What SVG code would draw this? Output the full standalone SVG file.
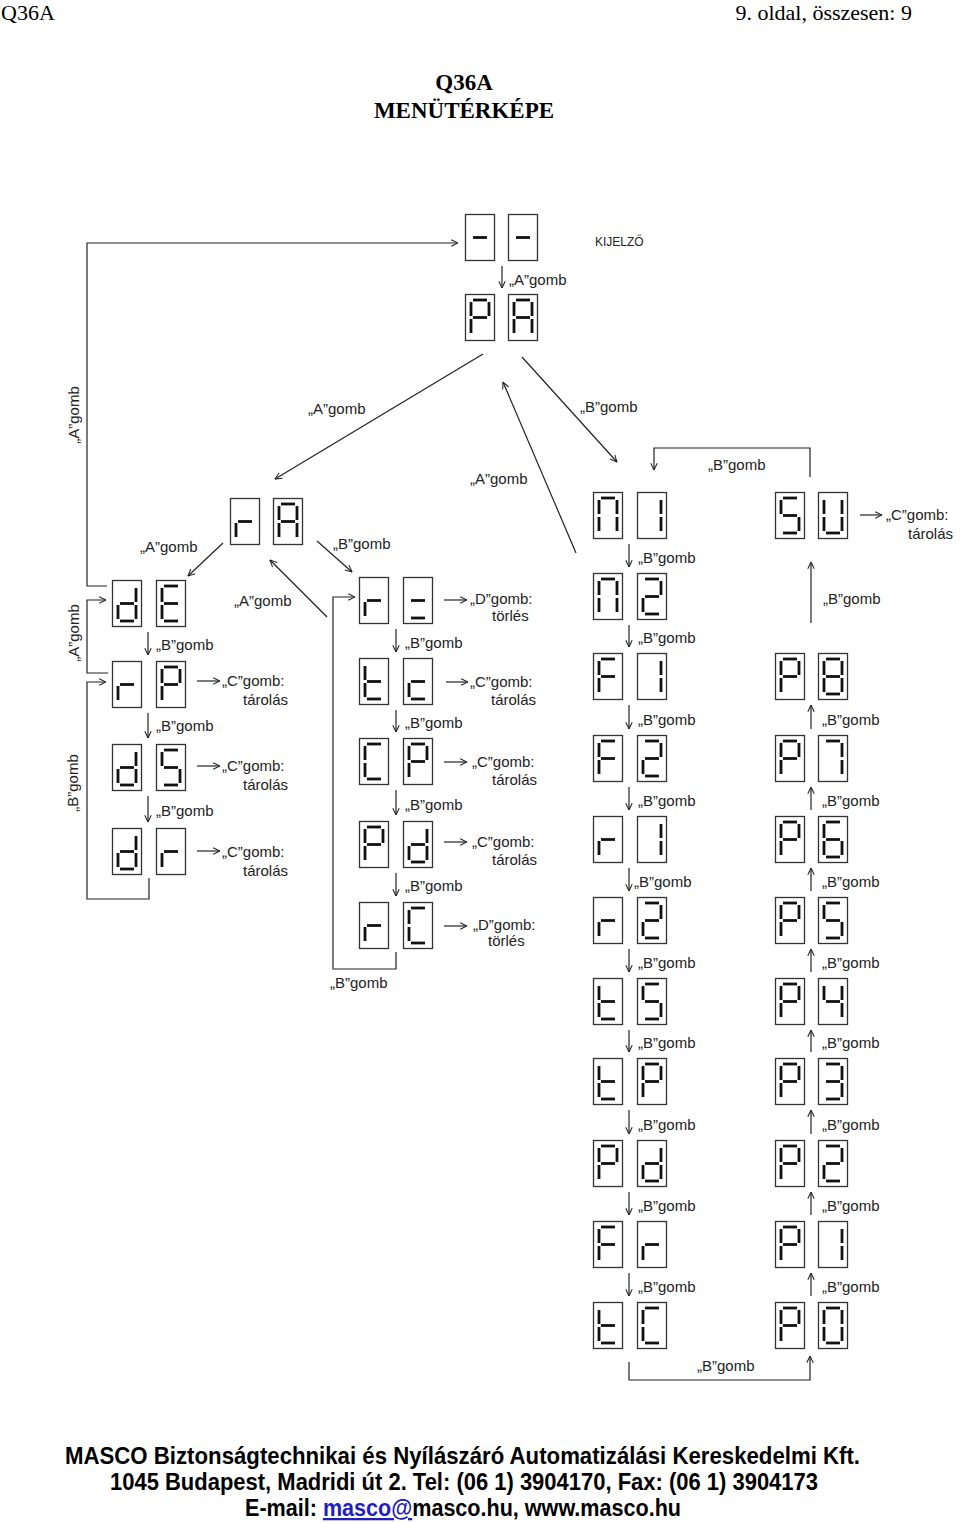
<svg xmlns="http://www.w3.org/2000/svg" width="960" height="1523" viewBox="0 0 960 1523">
<style>
.bx{fill:#fff;stroke:#333;stroke-width:1.3}
.sg{fill:none;stroke:#111;stroke-width:2.8}
.cn{fill:none;stroke:#222;stroke-width:1.2}
.ar{marker-end:url(#ah)}
.lb{font-family:"Liberation Sans",Arial,sans-serif;font-size:15px;fill:#222}
.sm{font-size:12px}
.hd{font-family:"Liberation Serif","Times New Roman",serif;font-size:22px;fill:#000}
.tt{font-family:"Liberation Serif","Times New Roman",serif;font-size:23px;font-weight:bold;fill:#000}
.ft{font-family:"Liberation Sans",Arial,sans-serif;font-size:23px;font-weight:bold;fill:#000}
</style>
<defs>
<marker id="ah" viewBox="0 0 10 10" refX="9.5" refY="5" markerWidth="8" markerHeight="8" markerUnits="userSpaceOnUse" orient="auto"><path d="M1,1 L9.5,5 L1,9" fill="none" stroke="#222" stroke-width="1.3"/></marker>
<rect id="bx" class="bx" x="0.5" y="0.5" width="29" height="46"/>
<path id="sa" class="sg" d="M8,6H22"/>
<path id="sb" class="sg" d="M24,8V22"/>
<path id="sc" class="sg" d="M24,25V39"/>
<path id="sd" class="sg" d="M8,41H22"/>
<path id="se" class="sg" d="M6,25V39"/>
<path id="sf" class="sg" d="M6,8V22"/>
<path id="sm" class="sg" d="M8,23.5H22"/>
<g id="c-dash"><use href="#bx"/><use href="#sm"/></g>
<g id="c-P"><use href="#bx"/><use href="#sa"/><use href="#sb"/><use href="#sf"/><use href="#sm"/><use href="#se"/></g>
<g id="c-A"><use href="#bx"/><use href="#sa"/><use href="#sb"/><use href="#sc"/><use href="#se"/><use href="#sf"/><use href="#sm"/></g>
<g id="c-r"><use href="#bx"/><use href="#se"/><use href="#sm"/></g>
<g id="c-d"><use href="#bx"/><use href="#sb"/><use href="#sc"/><use href="#sd"/><use href="#se"/><use href="#sm"/></g>
<g id="c-E"><use href="#bx"/><use href="#sa"/><use href="#sd"/><use href="#se"/><use href="#sf"/><use href="#sm"/></g>
<g id="c-S"><use href="#bx"/><use href="#sa"/><use href="#sf"/><use href="#sm"/><use href="#sc"/><use href="#sd"/></g>
<g id="c-eq"><use href="#bx"/><use href="#sm"/><use href="#sd"/></g>
<g id="c-t"><use href="#bx"/><use href="#sf"/><use href="#se"/><use href="#sm"/><use href="#sd"/></g>
<g id="c-c"><use href="#bx"/><use href="#sm"/><use href="#se"/><use href="#sd"/></g>
<g id="c-C"><use href="#bx"/><use href="#sa"/><use href="#sf"/><use href="#se"/><use href="#sd"/></g>
<g id="c-n"><use href="#bx"/><use href="#sa"/><use href="#sb"/><use href="#sc"/><use href="#se"/><use href="#sf"/></g>
<g id="c-1"><use href="#bx"/><use href="#sb"/><use href="#sc"/></g>
<g id="c-2"><use href="#bx"/><use href="#sa"/><use href="#sb"/><use href="#sm"/><use href="#se"/><use href="#sd"/></g>
<g id="c-F"><use href="#bx"/><use href="#sa"/><use href="#sf"/><use href="#sm"/><use href="#se"/></g>
<g id="c-8"><use href="#bx"/><use href="#sa"/><use href="#sb"/><use href="#sc"/><use href="#sd"/><use href="#se"/><use href="#sf"/><use href="#sm"/></g>
<g id="c-7"><use href="#bx"/><use href="#sa"/><use href="#sb"/><use href="#sc"/></g>
<g id="c-6"><use href="#bx"/><use href="#sa"/><use href="#sf"/><use href="#sm"/><use href="#se"/><use href="#sd"/><use href="#sc"/></g>
<g id="c-4"><use href="#bx"/><use href="#sf"/><use href="#sm"/><use href="#sb"/><use href="#sc"/></g>
<g id="c-3"><use href="#bx"/><use href="#sa"/><use href="#sb"/><use href="#sm"/><use href="#sc"/><use href="#sd"/></g>
<g id="c-0"><use href="#bx"/><use href="#sa"/><use href="#sb"/><use href="#sc"/><use href="#sd"/><use href="#se"/><use href="#sf"/></g>
<g id="c-U"><use href="#bx"/><use href="#sb"/><use href="#sc"/><use href="#sd"/><use href="#se"/><use href="#sf"/></g>
</defs>
<rect width="960" height="1523" fill="#fff"/>

<g id="header">
<text class="hd" x="1" y="20">Q36A</text>
<text class="hd" x="912" y="20" text-anchor="end">9. oldal, összesen: 9</text>
<text class="tt" x="464" y="90" text-anchor="middle">Q36A</text>
<text class="tt" x="464" y="118" text-anchor="middle">MENÜTÉRKÉPE</text>
</g>

<g id="connectors" class="cn">
<path class="ar" d="M107,586H87V243H458"/>
<path class="ar" d="M502,266V288"/>
<path class="ar" d="M483,354L275,479"/>
<path class="ar" d="M522,357L617,462"/>
<path class="ar" d="M576,553L503,382"/>
<path class="ar" d="M223,543L188,576"/>
<path class="ar" d="M327,617L270,560"/>
<path class="ar" d="M317,541L352,572"/>
<path class="ar" d="M108,673H87V600H106"/>
<path class="ar" d="M149,878V899H87V682H106"/>
<path class="ar" d="M396,952V969H333V597H355"/>
<path class="ar" d="M810,477V448H654V470"/>
<path class="ar" d="M629,1362V1380H810V1356"/>
<path class="ar" d="M811,623V562"/>
<path class="ar" d="M148,632V655"/>
<path class="ar" d="M148,713V738"/>
<path class="ar" d="M148,796V822"/>
<path class="ar" d="M197,681H220"/>
<path class="ar" d="M197,766H220"/>
<path class="ar" d="M197,851H220"/>
<path class="ar" d="M396,629V652"/>
<path class="ar" d="M396,710V732"/>
<path class="ar" d="M396,790V815"/>
<path class="ar" d="M396,873V896"/>
<path class="ar" d="M444,600H467"/>
<path class="ar" d="M446,682H468"/>
<path class="ar" d="M444,762H467"/>
<path class="ar" d="M444,842H467"/>
<path class="ar" d="M444,926H467"/>
<path class="ar" d="M629,544V567"/>
<path class="ar" d="M629,625V647"/>
<path class="ar" d="M629,705V729"/>
<path class="ar" d="M629,787V810"/>
<path class="ar" d="M629,868V891"/>
<path class="ar" d="M629,949V972"/>
<path class="ar" d="M629,1030V1052"/>
<path class="ar" d="M629,1110V1134"/>
<path class="ar" d="M629,1192V1215"/>
<path class="ar" d="M629,1273V1296"/>
<path class="ar" d="M811,729V705"/>
<path class="ar" d="M811,810V787"/>
<path class="ar" d="M811,891V868"/>
<path class="ar" d="M811,972V949"/>
<path class="ar" d="M811,1052V1030"/>
<path class="ar" d="M811,1134V1110"/>
<path class="ar" d="M811,1215V1192"/>
<path class="ar" d="M811,1296V1273"/>
<path class="ar" d="M860,515H882"/>
</g>

<g id="node-dash"><use href="#c-dash" x="465" y="214"/><use href="#c-dash" x="508" y="214"/></g>
<g id="node-PA"><use href="#c-P" x="465" y="294"/><use href="#c-A" x="508" y="294"/></g>
<g id="node-rA"><use href="#c-r" x="230" y="498"/><use href="#c-A" x="273" y="498"/></g>
<g id="node-dE"><use href="#c-d" x="112" y="580"/><use href="#c-E" x="156" y="580"/></g>
<g id="node-rP"><use href="#c-r" x="112" y="661"/><use href="#c-P" x="156" y="661"/></g>
<g id="node-dS"><use href="#c-d" x="112" y="744"/><use href="#c-S" x="156" y="744"/></g>
<g id="node-dr"><use href="#c-d" x="112" y="828"/><use href="#c-r" x="156" y="828"/></g>
<g id="node-r-eq"><use href="#c-r" x="359" y="577"/><use href="#c-eq" x="403" y="577"/></g>
<g id="node-tc"><use href="#c-t" x="359" y="658"/><use href="#c-c" x="403" y="658"/></g>
<g id="node-CP"><use href="#c-C" x="359" y="738"/><use href="#c-P" x="403" y="738"/></g>
<g id="node-Pd1"><use href="#c-P" x="359" y="821"/><use href="#c-d" x="403" y="821"/></g>
<g id="node-rC"><use href="#c-r" x="359" y="902"/><use href="#c-C" x="403" y="902"/></g>
<g id="node-n1"><use href="#c-n" x="593" y="492"/><use href="#c-1" x="637" y="492"/></g>
<g id="node-n2"><use href="#c-n" x="593" y="573"/><use href="#c-2" x="637" y="573"/></g>
<g id="node-F1"><use href="#c-F" x="593" y="653"/><use href="#c-1" x="637" y="653"/></g>
<g id="node-F2"><use href="#c-F" x="593" y="735"/><use href="#c-2" x="637" y="735"/></g>
<g id="node-r1"><use href="#c-r" x="593" y="816"/><use href="#c-1" x="637" y="816"/></g>
<g id="node-r2"><use href="#c-r" x="593" y="897"/><use href="#c-2" x="637" y="897"/></g>
<g id="node-t5"><use href="#c-t" x="593" y="978"/><use href="#c-S" x="637" y="978"/></g>
<g id="node-tP"><use href="#c-t" x="593" y="1058"/><use href="#c-P" x="637" y="1058"/></g>
<g id="node-Pd2"><use href="#c-P" x="593" y="1140"/><use href="#c-d" x="637" y="1140"/></g>
<g id="node-Fr"><use href="#c-F" x="593" y="1221"/><use href="#c-r" x="637" y="1221"/></g>
<g id="node-tC"><use href="#c-t" x="593" y="1302"/><use href="#c-C" x="637" y="1302"/></g>
<g id="node-SU"><use href="#c-S" x="775" y="492"/><use href="#c-U" x="818" y="492"/></g>
<g id="node-P8"><use href="#c-P" x="775" y="653"/><use href="#c-8" x="818" y="653"/></g>
<g id="node-P7"><use href="#c-P" x="775" y="735"/><use href="#c-7" x="818" y="735"/></g>
<g id="node-P6"><use href="#c-P" x="775" y="816"/><use href="#c-6" x="818" y="816"/></g>
<g id="node-P5"><use href="#c-P" x="775" y="897"/><use href="#c-S" x="818" y="897"/></g>
<g id="node-P4"><use href="#c-P" x="775" y="978"/><use href="#c-4" x="818" y="978"/></g>
<g id="node-P3"><use href="#c-P" x="775" y="1058"/><use href="#c-3" x="818" y="1058"/></g>
<g id="node-P2"><use href="#c-P" x="775" y="1140"/><use href="#c-2" x="818" y="1140"/></g>
<g id="node-P1"><use href="#c-P" x="775" y="1221"/><use href="#c-1" x="818" y="1221"/></g>
<g id="node-P0"><use href="#c-P" x="775" y="1302"/><use href="#c-0" x="818" y="1302"/></g>

<g id="labels" class="lb">
<text class="sm" x="595" y="246">KIJELZŐ</text>
<text x="509" y="285">„A”gomb</text>
<text x="308" y="414">„A”gomb</text>
<text x="580" y="412">„B”gomb</text>
<text x="470" y="484">„A”gomb</text>
<text x="333" y="549">„B”gomb</text>
<text x="234" y="606">„A”gomb</text>
<text x="140" y="552">„A”gomb</text>
<text x="708" y="470">„B”gomb</text>
<text x="697" y="1371">„B”gomb</text>
<text x="823" y="604">„B”gomb</text>
<text x="330" y="988">„B”gomb</text>
<text transform="translate(79,415) rotate(-90)" text-anchor="middle">„A”gomb</text>
<text transform="translate(79,633) rotate(-90)" text-anchor="middle">„A”gomb</text>
<text transform="translate(78,783) rotate(-90)" text-anchor="middle">„B”gomb</text>
<text x="156" y="650">„B”gomb</text>
<text x="156" y="731">„B”gomb</text>
<text x="156" y="816">„B”gomb</text>
<text x="222" y="686">„C”gomb:</text><text x="243" y="705">tárolás</text>
<text x="222" y="771">„C”gomb:</text><text x="243" y="790">tárolás</text>
<text x="222" y="857">„C”gomb:</text><text x="243" y="876">tárolás</text>
<text x="405" y="648">„B”gomb</text>
<text x="405" y="728">„B”gomb</text>
<text x="405" y="810">„B”gomb</text>
<text x="405" y="891">„B”gomb</text>
<text x="470" y="604">„D”gomb:</text><text x="492" y="621">törlés</text>
<text x="470" y="687">„C”gomb:</text><text x="491" y="705">tárolás</text>
<text x="472" y="767">„C”gomb:</text><text x="492" y="785">tárolás</text>
<text x="472" y="847">„C”gomb:</text><text x="492" y="865">tárolás</text>
<text x="473" y="930">„D”gomb:</text><text x="488" y="946">törlés</text>
<text x="638" y="563">„B”gomb</text>
<text x="638" y="643">„B”gomb</text>
<text x="638" y="725">„B”gomb</text>
<text x="638" y="806">„B”gomb</text>
<text x="634" y="887">„B”gomb</text>
<text x="638" y="968">„B”gomb</text>
<text x="638" y="1048">„B”gomb</text>
<text x="638" y="1130">„B”gomb</text>
<text x="638" y="1211">„B”gomb</text>
<text x="638" y="1292">„B”gomb</text>
<text x="822" y="725">„B”gomb</text>
<text x="822" y="806">„B”gomb</text>
<text x="822" y="887">„B”gomb</text>
<text x="822" y="968">„B”gomb</text>
<text x="822" y="1048">„B”gomb</text>
<text x="822" y="1130">„B”gomb</text>
<text x="822" y="1211">„B”gomb</text>
<text x="822" y="1292">„B”gomb</text>
<text x="886" y="520">„C”gomb:</text><text x="908" y="539">tárolás</text>
</g>

<g id="footer">
<text class="ft" x="65" y="1464" textLength="795" lengthAdjust="spacingAndGlyphs">MASCO Biztonságtechnikai és Nyílászáró Automatizálási Kereskedelmi Kft.</text>
<text class="ft" x="110" y="1490" textLength="708" lengthAdjust="spacingAndGlyphs">1045 Budapest, Madridi út 2. Tel: (06 1) 3904170, Fax: (06 1) 3904173</text>
<text class="ft" x="245" y="1516" textLength="436" lengthAdjust="spacingAndGlyphs">E-mail: <tspan fill="#1f1fbf" text-decoration="underline">masco@</tspan>masco.hu, www.masco.hu</text>
</g>
</svg>
